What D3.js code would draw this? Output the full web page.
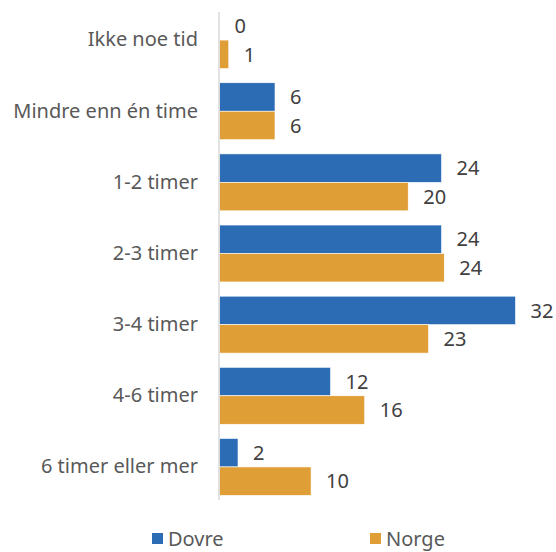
<!DOCTYPE html>
<html><head><meta charset="utf-8">
<script src="https://cdn.jsdelivr.net/npm/d3@7"></script>
<style>body{margin:0;background:#fff}svg{display:block}</style>
</head><body>
<svg id="c" width="556" height="552"></svg>
<script>
const categories = ["Ikke noe tid","Mindre enn én time","1-2 timer","2-3 timer","3-4 timer","4-6 timer","6 timer eller mer"];
const seriesNames = ["Dovre","Norge"];
const dovre = [0,6,24,24,32,12,2];
const norge = [1,6,20.4,24.3,22.6,15.7,9.9];
const colors = ["#2b6cb5","#e09e36"];

const svg = d3.select("#c");
const font = "'Noto Sans', sans-serif";
const fmt = d3.format(".0f");
const x = d3.scaleLinear().domain([0,32]).range([219.5,515.5]);
const y = d3.scaleBand().domain(categories).range([4.5,502.5]).paddingInner(0.2).paddingOuter(0.1);
const sub = d3.scaleBand().domain(seriesNames).range([0,y.bandwidth()]);

const data = categories.map((c,i)=>({c, vals:[dovre[i],norge[i]]}));
const g = svg.append("g");
data.forEach(d=>{
  d.vals.forEach((v,j)=>{
    const yy = y(d.c)+sub(seriesNames[j]);
    g.append("rect").attr("x",x(0)).attr("y",yy).attr("width",x(v)-x(0)).attr("height",sub.bandwidth())
      .attr("fill",colors[j]).attr("stroke","#fff").attr("stroke-width",0.6);
    g.append("text").attr("x",x(v)+15).attr("y",yy+sub.bandwidth()/2).attr("dy","0.36em")
      .attr("font-family",font).attr("font-size",20).attr("fill","#404040").text(fmt(v));
  });
});
// axis
const ax = d3.axisLeft(y).tickSize(0).tickPadding(21);
const axg = svg.append("g").attr("transform","translate(219,0)").call(ax);
axg.select(".domain").attr("stroke","#d9d9d9").attr("stroke-width",1.5).attr("d","M0,12V500");
axg.selectAll("text").attr("font-family",font).attr("font-size",20).attr("fill","#595959");

// legend
const lg = svg.append("g");
const lx = [152,370];
seriesNames.forEach((s,j)=>{
  lg.append("rect").attr("x",lx[j]).attr("y",533).attr("width",11).attr("height",11).attr("fill",colors[j]);
  lg.append("text").attr("x",lx[j]+16).attr("y",539).attr("dy","0.36em").attr("font-family",font).attr("font-size",20).attr("fill","#595959").text(s);
});
</script>
</body></html>
